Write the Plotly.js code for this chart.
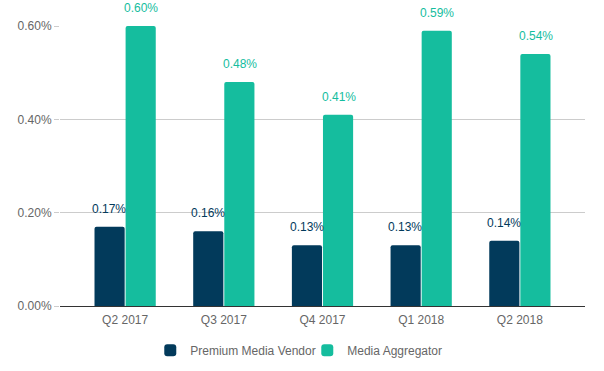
<!DOCTYPE html>
<html><head><meta charset="utf-8">
<script src="https://cdn.plot.ly/plotly-3.0.1.min.js"></script>
<style>html,body{margin:0;padding:0;background:#fff;}#chart{width:604px;height:371px;}</style>
</head><body><div id="chart"></div>
<script>
const quarters = ['Q2 2017','Q3 2017','Q4 2017','Q1 2018','Q2 2018'];
const premiumVendor = [0.17, 0.16, 0.13, 0.13, 0.14];
const mediaAggregator = [0.60, 0.48, 0.41, 0.59, 0.54];
const seriesNames = ['Premium Media Vendor', 'Media Aggregator'];
const navy = '#023a5b', teal = '#15bd9e';

const traces = [
  {type:'bar', name:seriesNames[0], x:quarters, y:premiumVendor, marker:{color:navy}, hoverinfo:'skip'},
  {type:'bar', name:seriesNames[1], x:quarters, y:mediaAggregator, marker:{color:teal}, hoverinfo:'skip'}
];
const annotations = [];
quarters.forEach((q,i)=>{
  annotations.push({x:q, y:premiumVendor[i], text:premiumVendor[i].toFixed(2)+'%', showarrow:false, xshift:-16, yshift:18, font:{family:'Liberation Sans, Arial, sans-serif', size:12, color:navy}});
  annotations.push({x:q, y:mediaAggregator[i], text:mediaAggregator[i].toFixed(2)+'%', showarrow:false, xshift:16, yshift:18, font:{family:'Liberation Sans, Arial, sans-serif', size:12, color:teal}});
});
const layout = {
  width:604, height:371,
  margin:{l:60, r:19, t:26, b:65, autoexpand:false},
  paper_bgcolor:'#fff', plot_bgcolor:'#fff',
  font:{family:'Liberation Sans, Arial, sans-serif', size:12, color:'#666'},
  barmode:'group', bargap:0.37, bargroupgap:0.03, barcornerradius:2,
  xaxis:{range:[-0.66,4.66], showgrid:false, showline:true, linecolor:'#333', linewidth:1, ticks:'', ticklabelstandoff:3, automargin:false, tickfont:{size:12,color:'#666'}},
  yaxis:{range:[0,0.6], tickvals:[0,0.2,0.4,0.6], ticktext:['0.00%','0.20%','0.40%','0.60%'], gridcolor:'#ccc', zeroline:false, ticks:'outside', ticklen:5, tickcolor:'#ccc', automargin:false, tickfont:{size:12,color:'#666'}},
  legend:{orientation:'h', yref:'container', x:0.471, xanchor:'center', y:0.095, yanchor:'top', font:{size:12,color:'#666'}, entrywidth:112, entrywidthmode:'pixels'},
  annotations:annotations,
  showlegend:true
};
Plotly.newPlot('chart', traces, layout, {displayModeBar:false, staticPlot:true});
</script></body></html>
